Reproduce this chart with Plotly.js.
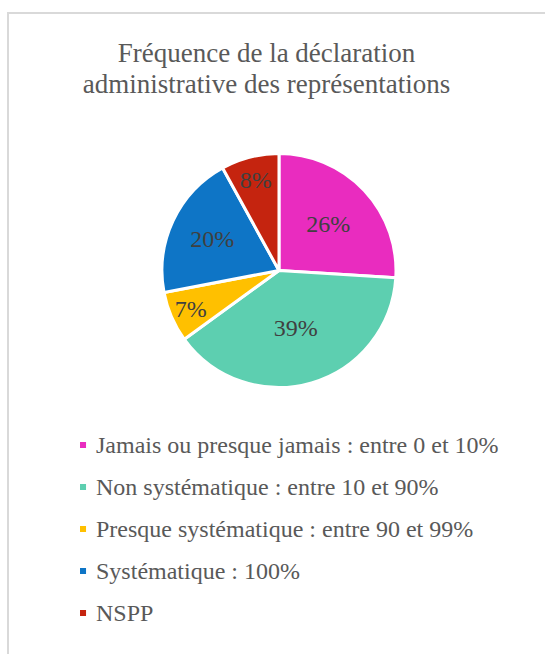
<!DOCTYPE html>
<html>
<head>
<meta charset="utf-8">
<script src="https://cdn.plot.ly/plotly-3.0.1.min.js"></script>
<style>
  html, body { margin: 0; padding: 0; background: #fff; }
  #chart { position: absolute; left: 0; top: 0; width: 545px; height: 654px; }
  #frame { position: absolute; left: 7px; top: 12px; width: 600px; height: 700px;
           border-left: 2px solid #d9d9d9; border-top: 2px solid #d9d9d9; pointer-events: none; }
  .legendpie { transform-box: fill-box; transform-origin: center; transform: translate(27px, 4px) scale(0.67); }
</style>
</head>
<body>
<div id="chart"></div>
<div id="frame"></div>
<script>
const categories = [
  "Jamais ou presque jamais : entre 0 et 10%",
  "Non systématique : entre 10 et 90%",
  "Presque systématique : entre 90 et 99%",
  "Systématique : 100%",
  "NSPP"
];
const shares = [26, 39, 7, 20, 8];
const sliceColors = ["#E92CBF", "#5DCFB0", "#FFC000", "#0E75C6", "#C5240F"];
const titleLines = ["Fréquence de la déclaration", "administrative des représentations"];

const serif = '"Liberation Serif", "Times New Roman", Times, serif';

const trace = {
  type: "pie",
  labels: categories.map(c => '<span style="font-size:24px">' + c + '</span>'),
  values: shares,
  sort: false,
  direction: "clockwise",
  rotation: 0,
  marker: { colors: sliceColors, line: { color: "#ffffff", width: 3 } },
  textinfo: "percent",
  texttemplate: "%{value}%",
  textposition: "inside",
  insidetextorientation: "horizontal",
  textfont: { family: serif, size: 24, color: "#404040" },
  hoverinfo: "none",
  domain: { x: [0.2972, 0.7266], y: [0.4075, 0.7653] }
};

const layout = {
  width: 545, height: 654,
  margin: { l: 0, r: 0, t: 0, b: 0 },
  paper_bgcolor: "#ffffff",
  title: {
    text: titleLines.map(l => '<span style="font-size:27px">' + l + '</span>').join("<br>"),
    font: { family: serif, size: 24, color: "#595959" },
    x: 0.489, xanchor: "center",
    xref: "paper",
    yref: "container", y: 1 - 62 / 654, yanchor: "middle"
  },
  uniformtext: { mode: "show", minsize: 24 },
  showlegend: true,
  legend: {
    orientation: "v",
    x: 0.1028, xanchor: "left",
    y: 1 - 415 / 654, yanchor: "top",
    font: { family: serif, size: 30, color: "#595959" },
    bgcolor: "rgba(0,0,0,0)"
  }
};

Plotly.newPlot("chart", [trace], layout, { staticPlot: true });
</script>
</body>
</html>
